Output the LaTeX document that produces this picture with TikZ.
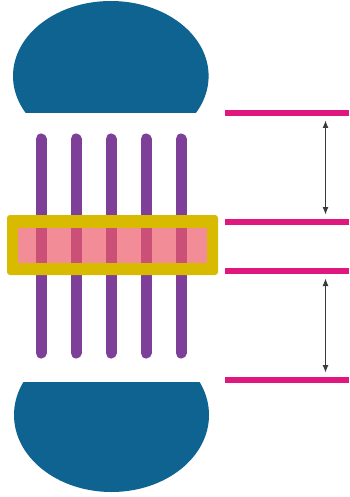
\documentclass[tikz,border=0pt]{standalone}
\usepackage{amsmath, amsthm, amssymb}
\usetikzlibrary{arrows.meta}

\definecolor{domeblue}{HTML}{0E6391}
\definecolor{barpurple}{HTML}{7D3F98}
\definecolor{frameyellow}{HTML}{D8BA00}
\definecolor{innerpink}{HTML}{F28C96}
\definecolor{barpink}{HTML}{CA5078}
\definecolor{linemagenta}{HTML}{E0177E}
\definecolor{arrowgray}{HTML}{3A3A3A}

\begin{document}
\begin{tikzpicture}[x=1pt,y=-1pt]
    \useasboundingbox (0,0) rectangle (349,497);

    % Obere Kappe
    \begin{scope}
        \clip (0,0) rectangle (230,113);
        \fill[domeblue] (110.8,76) ellipse [x radius=97.8pt, y radius=75pt];
    \end{scope}

    % Untere Kappe
    \begin{scope}
        \clip (0,382) rectangle (230,497);
        \fill[domeblue] (111.5,415) ellipse [x radius=97.5pt, y radius=77pt];
    \end{scope}

    % Senkrechte Staebe
    \foreach \x in {41,76,111,146,181}
        \draw[barpurple, line width=11pt, line cap=round] (\x,139) -- (\x,353);

    % Gelber Rahmen mit rosa Feld
    \fill[frameyellow, rounded corners=3pt] (7,215) rectangle (218,275);
    \fill[innerpink] (18,228) rectangle (207,263);
    \foreach \x in {41,76,111,146,181}
        \fill[barpink] (\x-5.5,228) rectangle (\x+5.5,263);

    % Waagerechte Linien
    \foreach \y/\n in {113/a,222/b,271/c,380/d} {
        \draw[linemagenta, line width=6pt] (225,\y) -- (349,\y);
        \coordinate (L\n) at (325.5,\y);
    }

    % Doppelpfeile
    \draw[arrowgray, line width=1.6pt, {Latex[length=8pt,width=6pt]}-{Latex[length=8pt,width=6pt]}]
        ([yshift=-7pt]La) -- ([yshift=7pt]Lb);
    \draw[arrowgray, line width=1.6pt, {Latex[length=8pt,width=6pt]}-{Latex[length=8pt,width=6pt]}]
        ([yshift=-7pt]Lc) -- ([yshift=7pt]Ld);
\end{tikzpicture}
\end{document}
